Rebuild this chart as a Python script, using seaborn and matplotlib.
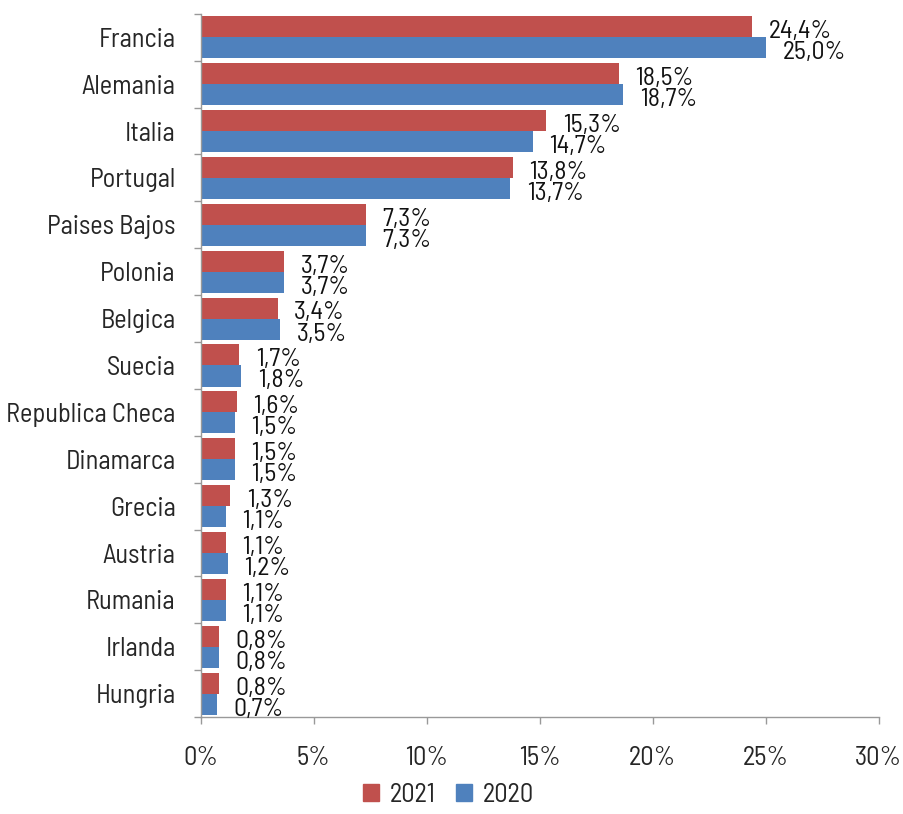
import matplotlib
matplotlib.use("Agg")
import matplotlib.pyplot as plt
import seaborn as sns
import pandas as pd
import numpy as np
from matplotlib.ticker import FixedLocator, FuncFormatter

paises = ["Francia", "Alemania", "Italia", "Portugal", "Paises Bajos", "Polonia",
          "Belgica", "Suecia", "Republica Checa", "Dinamarca", "Grecia", "Austria",
          "Rumania", "Irlanda", "Hungria"]
valores_2021 = [24.4, 18.5, 15.3, 13.8, 7.3, 3.7, 3.4, 1.7, 1.6, 1.5, 1.3, 1.1, 1.1, 0.8, 0.8]
valores_2020 = [25.0, 18.7, 14.7, 13.7, 7.3, 3.7, 3.5, 1.8, 1.5, 1.5, 1.1, 1.2, 1.1, 0.8, 0.7]
years = ["2021", "2020"]
colors = ["#C0504D", "#4F81BD"]

df = pd.DataFrame({
    "Pais": paises * 2,
    "Valor": valores_2021 + valores_2020,
    "Año": ["2021"] * len(paises) + ["2020"] * len(paises),
})

sns.set_style("white")
plt.rcParams['font.family'] = ['Barlow Semi Condensed', 'Barlow', 'DejaVu Sans']

fig = plt.figure(figsize=(9.04, 8.14), dpi=100)
ax = fig.add_axes([0.222, 0.119, 0.750, 0.864])

sns.barplot(data=df, y="Pais", x="Valor", hue="Año", hue_order=years,
            palette=colors, orient="h", width=0.9, saturation=1, ax=ax,
            legend=False, edgecolor="none")

# value labels, comma decimals
for container in ax.containers:
    for bar in container:
        w = bar.get_width()
        yc = bar.get_y() + bar.get_height() / 2
        ax.annotate(f"{w:.1f}%".replace(".", ","), xy=(w, yc),
                    xytext=(12, -3.5), textcoords="offset points",
                    ha="left", va="center", fontsize=18.5, color="#111111")

ax.set_xlim(0, 30)
ax.set_ylim(len(paises) - 0.5, -0.5)
ax.set_xticks(np.arange(0, 31, 5))
ax.xaxis.set_major_formatter(FuncFormatter(lambda v, p: f"{v:.0f}%"))
ax.set_xlabel("")
ax.set_ylabel("")

ax.yaxis.set_minor_locator(FixedLocator(np.arange(-0.5, len(paises), 1)))
ax.tick_params(axis="y", which="major", length=0, pad=18, labelsize=19)
ax.tick_params(axis="y", which="minor", length=5, color="#999999", width=1, direction="out")
ax.tick_params(axis="x", which="major", length=5, color="#999999", width=1,
               direction="out", pad=16, labelsize=19)
ax.tick_params(left=True, bottom=True)
ax.yaxis.set_tick_params(which="minor", left=True)

for side in ["top", "right"]:
    ax.spines[side].set_visible(False)
for side in ["left", "bottom"]:
    ax.spines[side].set_color("#999999")
    ax.spines[side].set_linewidth(1)

handles = [plt.Rectangle((0, 0), 1, 1, color=c) for c in colors]
fig.legend(handles, years, loc="lower center", bbox_to_anchor=(0.496, -0.02),
           ncol=2, frameon=False, fontsize=19, handlelength=0.6, handleheight=0.6,
           handletextpad=0.4, columnspacing=0.8)

fig.savefig("out.png", dpi=100)
